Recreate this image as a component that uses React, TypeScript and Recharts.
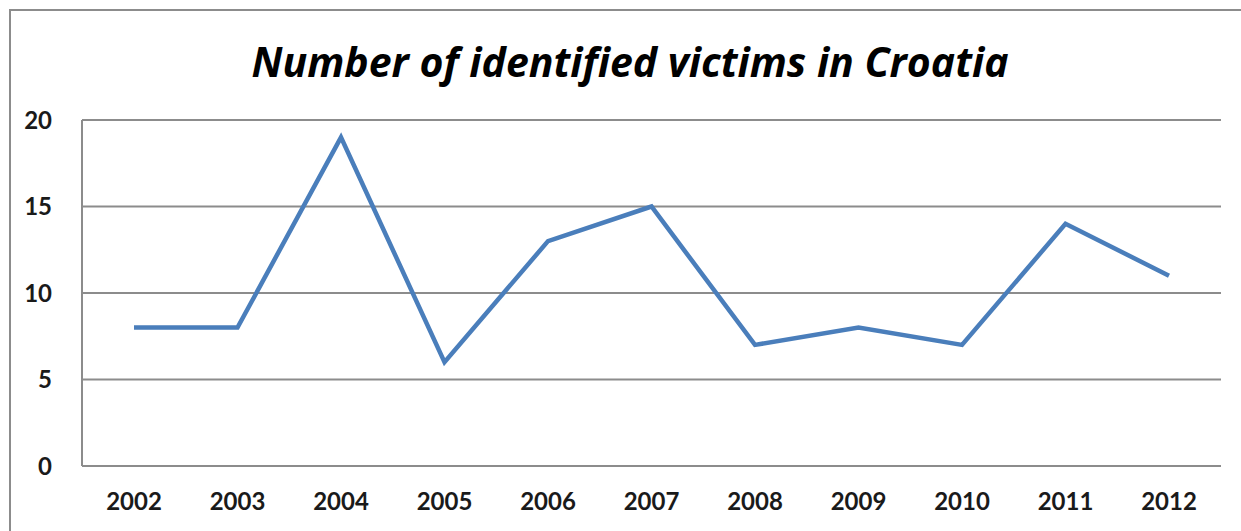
import React from "react";
import { LineChart, Line, XAxis, YAxis, CartesianGrid } from "recharts";

const years = ["2002", "2003", "2004", "2005", "2006", "2007", "2008", "2009", "2010", "2011", "2012"];
const victims = [8, 8, 19, 6, 13, 15, 7, 8, 7, 14, 11];
const yTicks = [0, 5, 10, 15, 20];
const title = "Number of identified victims in Croatia";

const data = years.map((y, i) => ({ year: y, value: victims[i] }));

const FONT = "Lato, 'Open Sans', sans-serif";

export default function App() {
  return (
    <div style={{ position: "absolute", left: 0, top: 0, width: 1241, height: 531, background: "#fff", overflow: "hidden" }}>
      <div style={{ position: "absolute", left: 9, top: 9, width: 1260, height: 560, border: "2px solid #8c8c8c", boxSizing: "border-box" }} />
      <div style={{ position: "absolute", left: 0, top: 35, width: 1260, textAlign: "center", fontFamily: "'Open Sans', sans-serif", fontWeight: 700, fontStyle: "italic", fontSize: 41, color: "#000", lineHeight: "52px" }}>
        {title}
      </div>
      <div style={{ position: "absolute", left: 0, top: 0 }}>
        <LineChart width={1241} height={531} data={data} margin={{ top: 120, right: 20, bottom: 0, left: 0 }}>
          <CartesianGrid vertical={false} stroke="#8c8c8c" strokeWidth={2} />
          <XAxis
            dataKey="year"
            height={65}
            padding={{ left: 52, right: 52 }}
            axisLine={{ stroke: "#8c8c8c", strokeWidth: 2 }}
            tickLine={false}
            tickSize={0}
            tickMargin={27}
            tick={{ fill: "#1a1a1a", fontFamily: FONT, fontWeight: 700, fontSize: 24 }}
            interval={0}
          />
          <YAxis
            width={82}
            domain={[0, 20]}
            ticks={yTicks}
            axisLine={{ stroke: "#8c8c8c", strokeWidth: 2 }}
            tickLine={false}
            tickSize={0}
            tickMargin={30}
            tick={{ fill: "#1a1a1a", fontFamily: FONT, fontWeight: 700, fontSize: 24 }}
          />
          <Line
            type="linear"
            dataKey="value"
            stroke="#4a7ebb"
            strokeWidth={4.5}
            dot={false}
            isAnimationActive={false}
          />
        </LineChart>
      </div>
    </div>
  );
}
